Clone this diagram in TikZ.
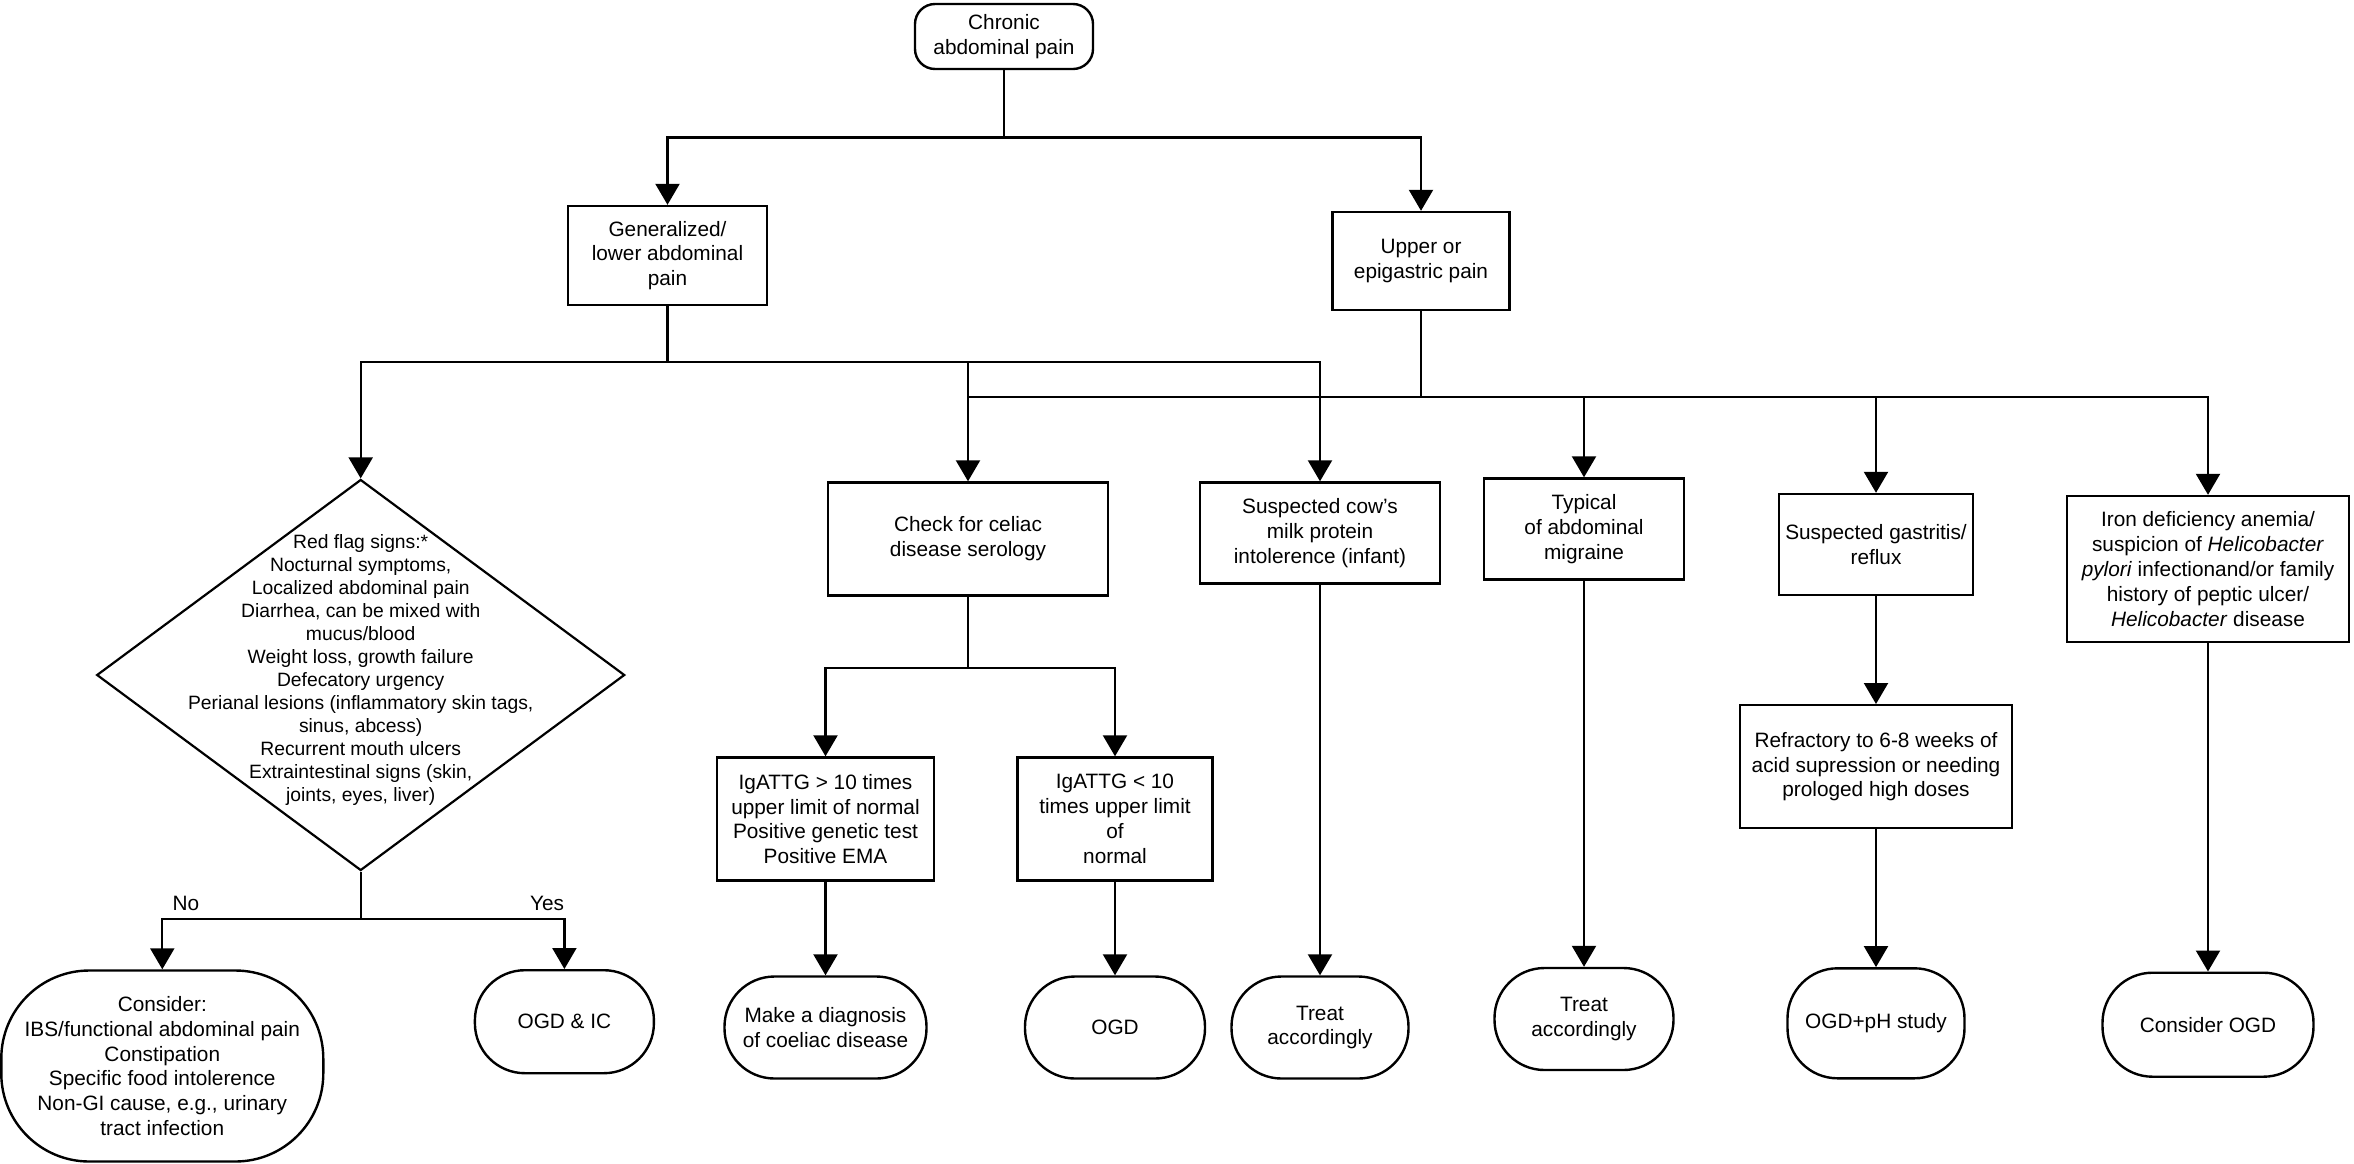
\documentclass[tikz,border=0pt]{standalone}
\usepackage{fontspec}
\setmainfont{Liberation Sans}
\usepackage{tikz}
\usetikzlibrary{arrows.meta, positioning, shapes.geometric}
\def\hb{\textit{Helicobacter}}

\begin{document}
\begin{tikzpicture}[x=1pt, y=-1pt,
  every node/.style={font=\fontsize{20.8}{24.8}\selectfont, align=center, inner sep=0pt},
  box/.style={draw, line width=2.4pt},
  term/.style={draw, line width=2.4pt, rounded corners=50pt},
  flag/.style={draw, diamond, line width=2.2pt, minimum width=528pt, minimum height=391pt},
  flagtxt/.style={font=\fontsize{19.3}{23}\selectfont},
  conn/.style={line width=2.2pt},
  arr/.style={line width=2.2pt, -{Triangle[length=21pt, width=24pt]}}]
\useasboundingbox (0, 0) rectangle (2354, 1163);

\node[box, rounded corners=20pt, minimum width=178pt, minimum height=65pt] (chronic) at (1004, 36.5) {Chronic\\abdominal pain};
\node[box, minimum width=199pt, minimum height=99pt] (general) at (667.5, 255.5) {Generalized/\\lower abdominal\\pain};
\node[box, minimum width=177pt, minimum height=98pt] (upper) at (1421, 261) {Upper or\\epigastric pain};

\node[flag] (redflag) at (360.7, 675) {};
\node[flagtxt] (redflagtxt) at (360.7, 670) {Red flag signs:*\\Nocturnal symptoms,\\Localized abdominal pain\\Diarrhea, can be mixed with\\mucus/blood\\Weight loss, growth failure\\Defecatory urgency\\Perianal lesions (inflammatory skin tags,\\sinus, abcess)\\Recurrent mouth ulcers\\Extraintestinal signs (skin,\\joints, eyes, liver)};
\node[box, minimum width=280pt, minimum height=113pt] (celiac) at (968, 539) {Check for celiac\\disease serology};
\node[box, minimum width=240pt, minimum height=101pt] (cowmilk) at (1320, 533) {Suspected cow's\\milk protein\\intolerence (infant)};
\node[box, minimum width=200pt, minimum height=101pt] (migraine) at (1584, 529) {Typical\\of abdominal\\migraine};
\node[box, minimum width=194pt, minimum height=101pt] (gastritis) at (1876, 544.5) {Suspected gastritis/\\reflux};
\node[box, minimum width=282pt, minimum height=146pt] (iron) at (2208, 569) {Iron deficiency anemia/\\suspicion of \hb\\\textit{pylori} infectionand/or family\\history of peptic ulcer/\\\hb{} disease};

\node[box, minimum width=217pt, minimum height=123pt] (igahigh) at (825.5, 819) {IgATTG > 10 times\\upper limit of normal\\Positive genetic test\\Positive EMA};
\node[box, minimum width=195pt, minimum height=123pt] (igalow) at (1115, 819) {IgATTG < 10\\times upper limit\\of\\normal};
\node[box, minimum width=272pt, minimum height=123pt] (refractory) at (1876, 766.7) {Refractory to 6-8 weeks of\\acid supression or needing\\prologed high doses};

\node[term, rounded corners=88pt, minimum width=322pt, minimum height=191pt] (consider) at (162.3, 1066) {Consider:\\IBS/functional abdominal pain\\Constipation\\Specific food intolerence\\Non-GI cause, e.g., urinary\\tract infection};
\node[term, minimum width=179pt, minimum height=103pt] (ogdic) at (564.4, 1021.7) {OGD \& IC};
\node[term, minimum width=202pt, minimum height=102pt] (diagnosis) at (825.5, 1027.5) {Make a diagnosis\\of coeliac disease};
\node[term, minimum width=180pt, minimum height=102pt] (ogd) at (1115, 1027.5) {OGD};
\node[term, minimum width=177pt, minimum height=102pt] (treatcow) at (1320, 1027.5) {Treat\\accordingly};
\node[term, minimum width=179pt, minimum height=102pt] (treatmig) at (1584, 1019) {Treat\\accordingly};
\node[term, minimum width=177pt, minimum height=110pt] (ogdph) at (1876, 1023.3) {OGD+pH study};
\node[term, minimum width=211pt, minimum height=104pt] (considerogd) at (2208, 1024.7) {Consider OGD};

\node (nolbl) at (186, 903) {No};
\node (yeslbl) at (547, 903) {Yes};

\coordinate (topbus) at (1004, 137.5);
\coordinate (genbus) at (667.5, 362);
\coordinate (upbus) at (1421, 396.7);
\coordinate (celbus) at (968, 668);
\coordinate (flagbus) at (360.7, 919);

\draw[conn] (chronic) -- (topbus);
\draw[arr] (topbus) -| (general);
\draw[arr] (topbus) -| (upper);
\draw[conn] (general) -- (genbus);
\draw[arr] (genbus) -| (redflag);
\draw[arr] (genbus) -| (celiac);
\draw[arr] (genbus) -| (cowmilk);
\draw[conn] (upper) -- (upbus);
\draw[conn] (upbus) -- (upbus -| celiac);
\draw[arr] (upbus) -| (migraine);
\draw[arr] (upbus) -| (gastritis);
\draw[arr] (upbus) -| (iron);
\draw[conn] (redflag) -- (flagbus);
\draw[arr] (flagbus) -| (consider);
\draw[arr] (flagbus) -| (ogdic);
\draw[conn] (celiac) -- (celbus);
\draw[arr] (celbus) -| (igahigh);
\draw[arr] (celbus) -| (igalow);
\draw[arr] (igahigh) -- (diagnosis);
\draw[arr] (igalow) -- (ogd);
\draw[arr] (cowmilk) -- (treatcow);
\draw[arr] (migraine) -- (treatmig);
\draw[arr] (gastritis) -- (refractory);
\draw[arr] (refractory) -- (ogdph);
\draw[arr] (iron) -- (considerogd);
\end{tikzpicture}
\end{document}
